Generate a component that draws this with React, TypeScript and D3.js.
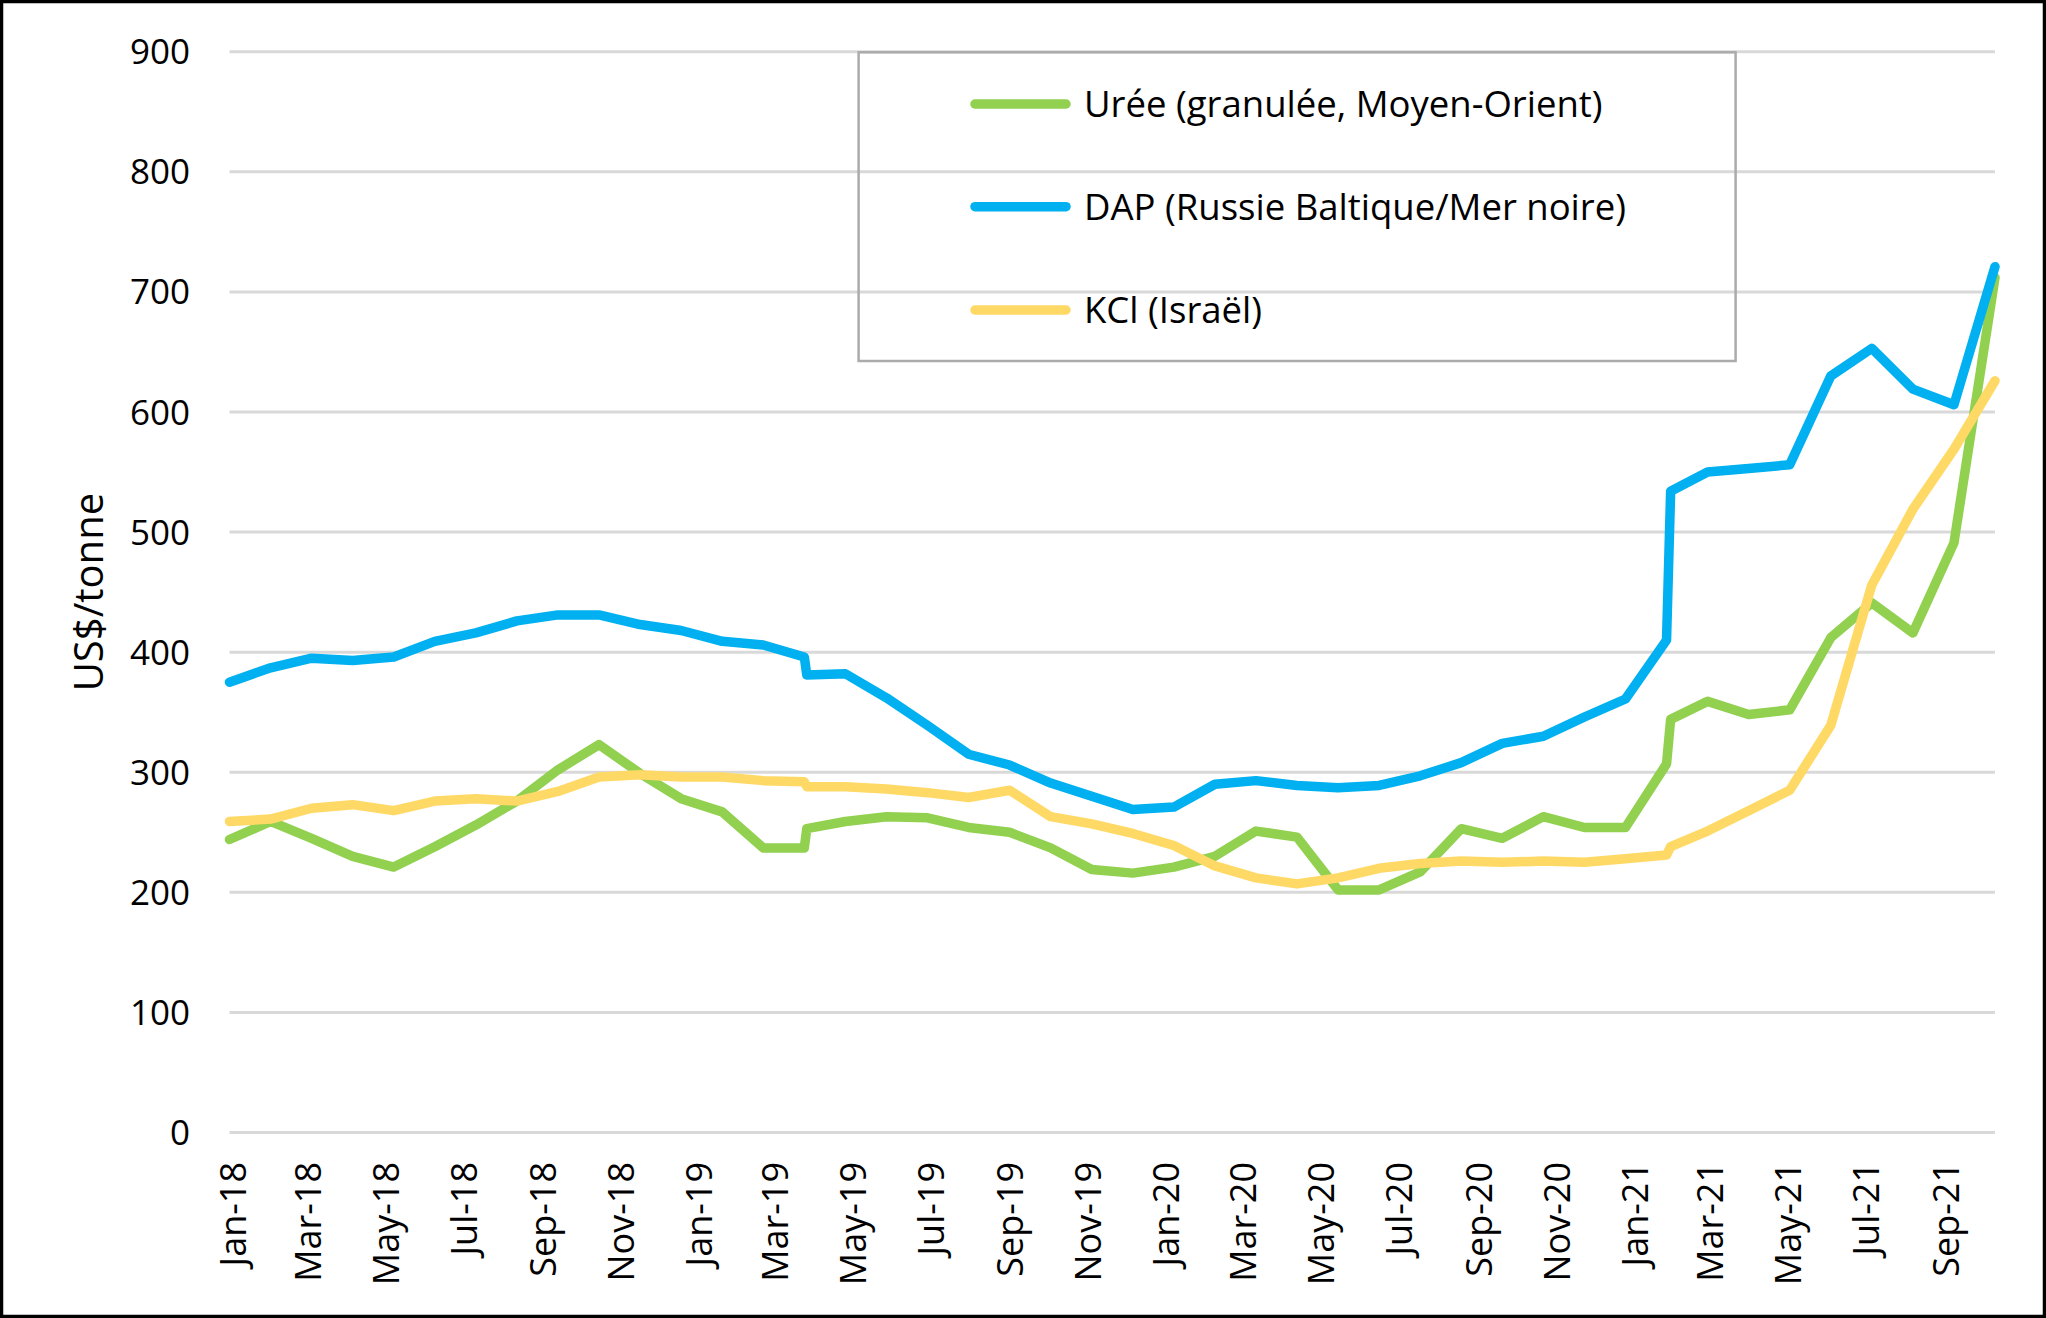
import { useEffect, useRef } from 'react'
import * as d3 from 'd3'

// positions of the points along the line (index units, two extra points at the breaks)
const pointIndex = [
  0, 1, 2, 3, 4, 5, 6, 7, 8, 9, 10, 11, 12, 13, 14, 14.06, 15, 16, 17, 18, 19, 20, 21, 22, 23,
  24, 25, 26, 27, 28, 29, 30, 31, 32, 33, 34, 35, 35.1, 36, 37, 38, 39, 40, 41, 42, 43,
]

const uree = [
  244, 259, 245, 230, 221, 238, 256, 276, 302, 323, 299, 278, 267, 237, 237, 253, 259, 263, 262,
  254, 250, 237, 219, 216, 221, 230, 251, 246, 202, 202, 217, 253, 245, 263, 254, 254, 307, 344,
  359, 348, 352, 412, 441, 416, 491, 712,
]

const dap = [
  375, 387, 395, 393, 396, 409, 416, 426, 431, 431, 423, 418, 409, 406, 396, 381, 382, 362, 339,
  315, 306, 291, 280, 269, 271, 290, 293, 289, 287, 289, 297, 308, 324, 330, 346, 361, 410, 534,
  550, 553, 556, 630, 653, 619, 606, 721,
]

const kcl = [
  259, 261, 270, 273, 268, 276, 278, 276, 284, 296, 298, 296, 296, 293, 292, 288, 288, 286, 283,
  279, 285, 263, 257, 249, 239, 222, 212, 207, 212, 220, 224, 226, 225, 226, 225, 228, 231, 238,
  251, 268, 285, 339, 456, 519, 569, 626,
]

const seriesNames = [
  'Urée (granulée, Moyen-Orient)',
  'DAP (Russie Baltique/Mer noire)',
  'KCl (Israël)',
]
const seriesColors = ['#92D050', '#00B0F0', '#FFD966']

const yTicks = [0, 100, 200, 300, 400, 500, 600, 700, 800, 900]

const W = 2046
const H = 1318
const FONT = "'Open Sans', 'Noto Sans', sans-serif"

export default function App() {
  const svgRef = useRef<SVGSVGElement>(null)

  useEffect(() => {
    if (!svgRef.current) return
    const svg = d3.select(svgRef.current)
    svg.selectAll('*').remove()

    const left = 229.5
    const right = 1995
    const y = d3.scaleLinear().domain([0, 900]).range([1132.5, 51.7])
    const xIdx = d3.scaleLinear().domain([0, 43]).range([left, right])
    const xTime = d3.scaleTime()
      .domain([new Date(2018, 0, 1), new Date(2021, 9, 12)])
      .range([left, right])

    svg.append('rect')
      .attr('x', 0).attr('y', 0).attr('width', W).attr('height', H)
      .attr('fill', '#fff')

    // gridlines
    const grid = svg.append('g')
    yTicks.forEach(t => {
      grid.append('line')
        .attr('x1', left).attr('x2', right)
        .attr('y1', y(t)).attr('y2', y(t))
        .attr('stroke', '#D9D9D9').attr('stroke-width', 3)
    })

    // y tick labels
    yTicks.forEach(t => {
      svg.append('text')
        .attr('x', 190)
        .attr('y', y(t))
        .attr('dy', '0.36em')
        .attr('text-anchor', 'end')
        .attr('font-family', FONT)
        .attr('font-size', 35)
        .attr('fill', '#000')
        .text(String(t))
    })

    // y title
    svg.append('text')
      .attr('transform', `translate(103, ${(y(0) + y(900)) / 2}) rotate(-90)`)
      .attr('text-anchor', 'middle')
      .attr('font-family', FONT)
      .attr('font-size', 40)
      .attr('fill', '#000')
      .text('US$/tonne')

    // x labels, every two months
    const fmt = d3.timeFormat('%b-%y')
    const months = d3.timeMonth.range(new Date(2018, 0, 1), new Date(2021, 9, 2), 2)
    months.forEach(d => {
      svg.append('text')
        .attr('transform', `translate(${xTime(d) + 16}, 1162) rotate(-90)`)
        .attr('text-anchor', 'end')
        .attr('font-family', FONT)
        .attr('font-size', 36)
        .attr('fill', '#000')
        .text(fmt(d))
    })

    // legend
    const lg = svg.append('g')
    lg.append('rect')
      .attr('x', 858.6).attr('y', 52.3)
      .attr('width', 877).attr('height', 308.7)
      .attr('fill', 'none')
      .attr('stroke', '#ABABAB').attr('stroke-width', 2.5)
    const legendY = [104, 206.7, 310]
    seriesNames.forEach((name, i) => {
      lg.append('line')
        .attr('x1', 975).attr('x2', 1066)
        .attr('y1', legendY[i]).attr('y2', legendY[i])
        .attr('stroke', seriesColors[i]).attr('stroke-width', 9.5)
        .attr('stroke-linecap', 'round')
      lg.append('text')
        .attr('x', 1084)
        .attr('y', legendY[i])
        .attr('dy', '0.36em')
        .attr('font-family', FONT)
        .attr('font-size', 36.5)
        .attr('fill', '#000')
        .text(name)
    })

    // lines
    const line = d3.line<number>()
      .x((_, i) => xIdx(pointIndex[i]))
      .y(d => y(d))
    ;[uree, dap, kcl].forEach((vals, i) => {
      svg.append('path')
        .datum(vals)
        .attr('d', line)
        .attr('fill', 'none')
        .attr('stroke', seriesColors[i])
        .attr('stroke-width', 9.5)
        .attr('stroke-linejoin', 'round')
        .attr('stroke-linecap', 'round')
    })

    // outer frame
    svg.append('rect')
      .attr('x', 1.5).attr('y', 1.5)
      .attr('width', W - 3).attr('height', H - 3)
      .attr('fill', 'none')
      .attr('stroke', '#000').attr('stroke-width', 3.5)
  }, [])

  return (
    <svg
      ref={svgRef}
      width={W}
      height={H}
      style={{ position: 'absolute', left: 0, top: 0, display: 'block' }}
    />
  )
}
